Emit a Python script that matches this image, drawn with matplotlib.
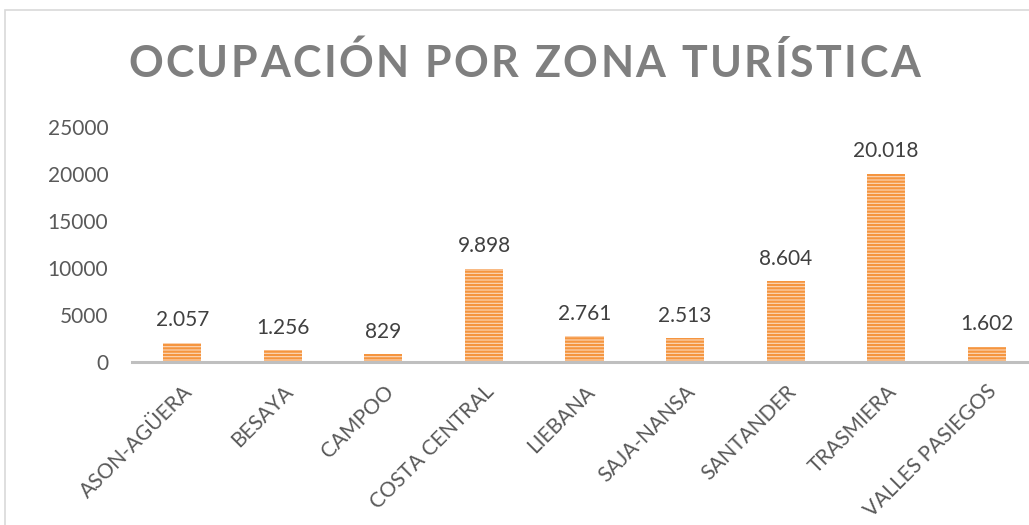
import matplotlib
matplotlib.use("Agg")
import matplotlib.pyplot as plt
from matplotlib.font_manager import FontProperties
from matplotlib.patches import Rectangle

categories = ["ASON-AGÜERA", "BESAYA", "CAMPOO", "COSTA CENTRAL", "LIEBANA",
              "SAJA-NANSA", "SANTANDER", "TRASMIERA", "VALLES PASIEGOS"]
values = [2057, 1256, 829, 9898, 2761, 2513, 8604, 20018, 1602]
value_labels = ["2.057", "1.256", "829", "9.898", "2.761", "2.513", "8.604", "20.018", "1.602"]
yticks = [0, 5000, 10000, 15000, 20000, 25000]
title = "OCUPACIÓN POR ZONA TURÍSTICA"

W, H = 1029, 525
plt.rcParams['font.family'] = ['Lato', 'DejaVu Sans']
plt.rcParams['hatch.linewidth'] = 1.6

fig = plt.figure(figsize=(W / 100, H / 100), dpi=100)

# chart border
fig.patches.append(Rectangle((5 / W, -0.1), 1.2, 1 - 10 / H + 0.1, transform=fig.transFigure,
                             fill=False, edgecolor='#d9d9d9', linewidth=1.2))

left, right, top, bottom = 132, 1037, 127, 362
ax = fig.add_axes([left / W, 1 - bottom / H, (right - left) / W, (bottom - top) / H])
x = list(range(len(categories)))
ax.bar(x, values, width=0.38, color='#FCD9BC', edgecolor='#F5953F', hatch='-----', linewidth=0)
ax.set_xlim(-0.5, len(categories) - 0.5)
ax.set_ylim(0, 25000)
ax.set_yticks(yticks)
ax.set_yticklabels([str(v) for v in yticks], fontsize=15, color='#595959')
ax.set_xticks(x)
ax.set_xticklabels(categories, rotation=45, ha='right', va='top', rotation_mode='anchor',
                   fontsize=15, color='#595959')
ax.tick_params(axis='both', length=0)
ax.tick_params(axis='y', pad=17)
ax.tick_params(axis='x', pad=14)
for s in ['top', 'right', 'left']:
    ax.spines[s].set_visible(False)
ax.spines['bottom'].set_color('#bfbfbf')
ax.spines['bottom'].set_linewidth(2.2)
ax.patch.set_alpha(0)

for xi, v, lab in zip(x, values, value_labels):
    ax.annotate(lab, (xi, v), xytext=(0, 9), textcoords='offset points', ha='center', va='bottom',
                fontsize=15, color='#404040')

# title with letter spacing
fig.canvas.draw()
r = fig.canvas.get_renderer()
prop = FontProperties(family='Lato', weight='bold', size=31)
widths = []
for ch in title:
    w, h, d = r.get_text_width_height_descent(ch, prop, ismath=False)
    widths.append(w)
target_left, target_right = 128, 920
n = len(title)
spacing = (target_right - target_left - sum(widths)) / (n - 1)
cx = target_left
baseline = H - 77
for ch, w in zip(title, widths):
    fig.text(cx / W, baseline / H, ch, fontproperties=prop, color='#7f7f7f',
             ha='left', va='baseline')
    cx += w + spacing

fig.savefig('out.png', dpi=100)
